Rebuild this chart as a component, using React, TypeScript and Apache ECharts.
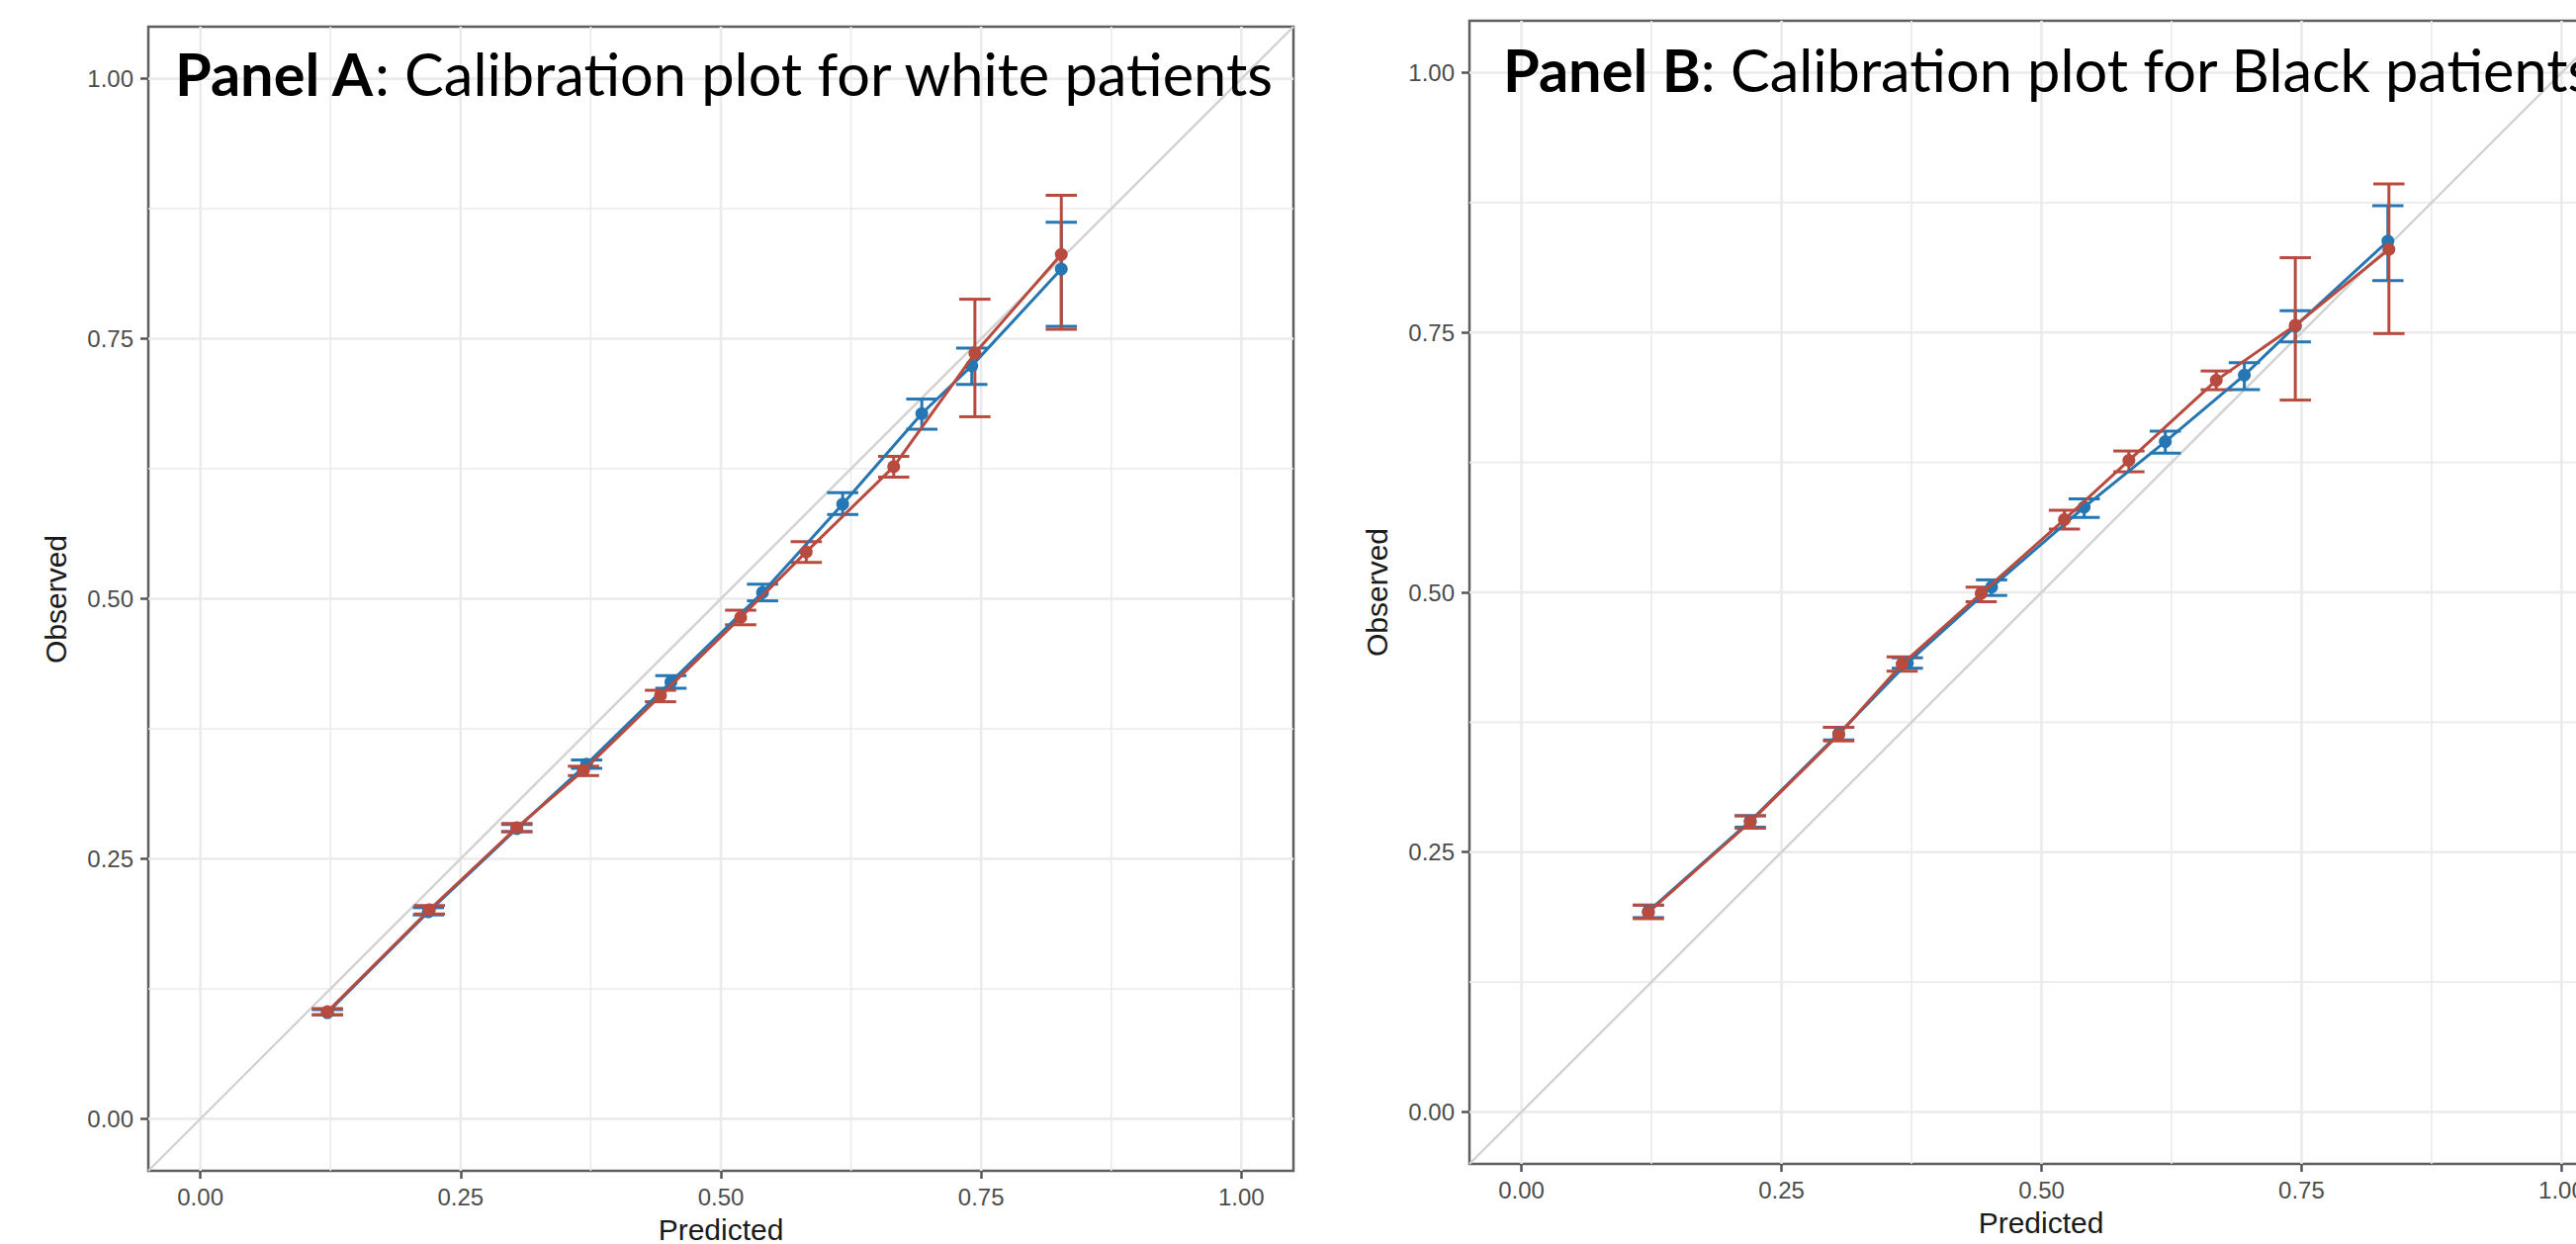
import React, { useEffect, useRef } from "react";
import * as echarts from "echarts";

// ---------- axis ticks ----------
const AXIS_MIN = -0.05;
const AXIS_MAX = 1.05;
const MAJOR_TICKS = [0, 0.25, 0.5, 0.75, 1];
const MINOR_TICKS = [0.125, 0.375, 0.625, 0.875];
const TICK_LABELS = ["0.00", "0.25", "0.50", "0.75", "1.00"];
const CAP_WIDTH = 0.03;

// ---------- Panel A: white patients ----------
const aRedX = [0.122, 0.22, 0.304, 0.368, 0.442, 0.519, 0.582, 0.666, 0.744, 0.827];
const aRedY = [0.103, 0.201, 0.28, 0.335, 0.407, 0.482, 0.545, 0.627, 0.736, 0.831];
const aRedLo = [0.1, 0.197, 0.276, 0.33, 0.401, 0.475, 0.535, 0.617, 0.675, 0.759];
const aRedHi = [0.106, 0.205, 0.284, 0.339, 0.412, 0.489, 0.555, 0.637, 0.788, 0.888];

const aBlueX = [0.122, 0.219, 0.304, 0.371, 0.452, 0.54, 0.617, 0.693, 0.741, 0.827];
const aBlueY = [0.102, 0.199, 0.279, 0.341, 0.42, 0.506, 0.591, 0.678, 0.724, 0.817];
const aBlueLo = [0.1, 0.196, 0.276, 0.337, 0.414, 0.498, 0.581, 0.663, 0.706, 0.762];
const aBlueHi = [0.105, 0.203, 0.283, 0.345, 0.426, 0.514, 0.602, 0.692, 0.741, 0.862];

// ---------- Panel B: Black patients ----------
const bRedX = [0.122, 0.22, 0.305, 0.366, 0.442, 0.522, 0.584, 0.668, 0.744, 0.834];
const bRedY = [0.192, 0.279, 0.363, 0.431, 0.499, 0.57, 0.627, 0.704, 0.757, 0.83];
const bRedLo = [0.186, 0.273, 0.357, 0.424, 0.491, 0.561, 0.616, 0.695, 0.685, 0.749];
const bRedHi = [0.199, 0.285, 0.37, 0.438, 0.505, 0.579, 0.636, 0.713, 0.822, 0.893];

const bBlueX = [0.122, 0.22, 0.305, 0.371, 0.452, 0.541, 0.619, 0.695, 0.744, 0.833];
const bBlueY = [0.193, 0.28, 0.364, 0.432, 0.505, 0.582, 0.645, 0.709, 0.756, 0.838];
const bBlueLo = [0.187, 0.274, 0.358, 0.427, 0.497, 0.572, 0.634, 0.695, 0.741, 0.8];
const bBlueHi = [0.199, 0.285, 0.37, 0.437, 0.512, 0.59, 0.655, 0.721, 0.771, 0.872];

const RED = "#B84B3F";
const BLUE = "#2676B3";
const GRID_COLOR = "#EBEBEB";
const DIAG_COLOR = "#D2D2D2";
const TICK_FONT = "'Liberation Sans', Arial, sans-serif";
const TITLE_FONT = "Lato, 'Open Sans', sans-serif";

const zip = (xs: number[], ys: number[]) => xs.map((x, i) => [x, ys[i]]);
const zip3 = (xs: number[], lo: number[], hi: number[]) => xs.map((x, i) => [x, lo[i], hi[i]]);

function gridLineSeries(idx: number) {
  const data = [
    ...MAJOR_TICKS.map((v) => [v, 1]),
    ...MINOR_TICKS.map((v) => [v, 0]),
  ];
  return {
    type: "custom",
    xAxisIndex: idx,
    yAxisIndex: idx,
    z: 0,
    silent: true,
    data,
    encode: { x: 0, y: 1 },
    renderItem: (params: any, api: any) => {
      const v = api.value(0);
      const major = api.value(1) === 1;
      const p1 = api.coord([v, AXIS_MIN]);
      const p2 = api.coord([v, AXIS_MAX]);
      const q1 = api.coord([AXIS_MIN, v]);
      const q2 = api.coord([AXIS_MAX, v]);
      const style = { stroke: GRID_COLOR, lineWidth: major ? 2.6 : 1.6 };
      return {
        type: "group",
        children: [
          { type: "line", shape: { x1: p1[0], y1: p1[1], x2: p2[0], y2: p2[1] }, style },
          { type: "line", shape: { x1: q1[0], y1: q1[1], x2: q2[0], y2: q2[1] }, style },
        ],
      };
    },
  };
}

function diagonalSeries(idx: number) {
  return {
    type: "line",
    xAxisIndex: idx,
    yAxisIndex: idx,
    z: 1,
    silent: true,
    symbol: "none",
    lineStyle: { color: DIAG_COLOR, width: 2.4 },
    data: [
      [AXIS_MIN, AXIS_MIN],
      [AXIS_MAX, AXIS_MAX],
    ],
  };
}

function errorBarSeries(idx: number, xs: number[], lo: number[], hi: number[], color: string, z: number) {
  return {
    type: "custom",
    xAxisIndex: idx,
    yAxisIndex: idx,
    z,
    silent: true,
    data: zip3(xs, lo, hi),
    encode: { x: 0, y: [1, 2] },
    renderItem: (params: any, api: any) => {
      const x = api.value(0);
      const top = api.coord([x, api.value(2)]);
      const bot = api.coord([x, api.value(1)]);
      const half = api.size([CAP_WIDTH / 2, 0])[0];
      const style = { stroke: color, lineWidth: 3 };
      return {
        type: "group",
        children: [
          { type: "line", shape: { x1: top[0], y1: top[1], x2: bot[0], y2: bot[1] }, style },
          { type: "line", shape: { x1: top[0] - half, y1: top[1], x2: top[0] + half, y2: top[1] }, style },
          { type: "line", shape: { x1: bot[0] - half, y1: bot[1], x2: bot[0] + half, y2: bot[1] }, style },
        ],
      };
    },
  };
}

function pointLineSeries(idx: number, xs: number[], ys: number[], color: string, z: number) {
  return {
    type: "line",
    xAxisIndex: idx,
    yAxisIndex: idx,
    z,
    symbol: "circle",
    symbolSize: 13,
    showSymbol: true,
    itemStyle: { color },
    lineStyle: { color, width: 3 },
    data: zip(xs, ys),
  };
}

function makeAxis(idx: number, isX: boolean) {
  return {
    gridIndex: idx,
    type: "value",
    min: AXIS_MIN,
    max: AXIS_MAX,
    axisLine: { show: false, onZero: false },
    axisTick: {
      show: true,
      customValues: MAJOR_TICKS,
      length: 8,
      lineStyle: { color: "#555555", width: 2.5 },
    },
    axisLabel: {
      customValues: MAJOR_TICKS,
      formatter: (v: number) => TICK_LABELS[MAJOR_TICKS.findIndex((t) => Math.abs(t - v) < 1e-6)] ?? "",
      color: "#4D4D4D",
      fontSize: 24,
      fontFamily: TICK_FONT,
      margin: isX ? 14 : 15,
    },
    splitLine: { show: false },
    minorSplitLine: { show: false },
  };
}

export default function App() {
  const ref = useRef<HTMLDivElement>(null);

  useEffect(() => {
    if (!ref.current) return;
    const chart = echarts.init(ref.current, undefined, { renderer: "svg" });

    const gridStyle = {
      show: true,
      borderColor: "#5E5E5E",
      borderWidth: 2.5,
      backgroundColor: "#FFFFFF",
      containLabel: false,
      outerBoundsMode: "none",
    };

    const titleRich = (label: string, rest: string, x: number, y: number) => ({
      type: "text",
      x,
      y,
      z: 100,
      silent: true,
      style: {
        text: `{b|${label}}: ${rest}`,
        fontFamily: TITLE_FONT,
        fontSize: 59.5,
        fill: "#000000",
        verticalAlign: "middle",
        align: "left",
        rich: {
          b: { fontFamily: TITLE_FONT, fontSize: 59.5, fontWeight: "bold", fill: "#000000" },
        },
      },
    });

    const axisTitle = (text: string, x: number, y: number, rotate: boolean) => ({
      type: "text",
      x,
      y,
      rotation: rotate ? Math.PI / 2 : 0,
      z: 100,
      silent: true,
      style: {
        text,
        fontFamily: TICK_FONT,
        fontSize: 30,
        fill: "#1A1A1A",
        align: "center",
        verticalAlign: "middle",
      },
    });

    chart.setOption({
      animation: false,
      backgroundColor: "#FFFFFF",
      grid: [
        { ...gridStyle, left: 150, top: 27, width: 1158, height: 1157 },
        { ...gridStyle, left: 1486, top: 21, width: 1157, height: 1156 },
      ],
      xAxis: [makeAxis(0, true), makeAxis(1, true)],
      yAxis: [makeAxis(0, false), makeAxis(1, false)],
      series: [
        gridLineSeries(0),
        diagonalSeries(0),
        errorBarSeries(0, aBlueX, aBlueLo, aBlueHi, BLUE, 2),
        errorBarSeries(0, aRedX, aRedLo, aRedHi, RED, 3),
        pointLineSeries(0, aBlueX, aBlueY, BLUE, 4),
        pointLineSeries(0, aRedX, aRedY, RED, 5),
        gridLineSeries(1),
        diagonalSeries(1),
        errorBarSeries(1, bBlueX, bBlueLo, bBlueHi, BLUE, 2),
        errorBarSeries(1, bRedX, bRedLo, bRedHi, RED, 3),
        pointLineSeries(1, bBlueX, bBlueY, BLUE, 4),
        pointLineSeries(1, bRedX, bRedY, RED, 5),
      ],
      graphic: [
        titleRich("Panel A", "Calibration plot for white patients", 177, 74),
        titleRich("Panel B", "Calibration plot for Black patients", 1520, 70),
        axisTitle("Observed", 56, 606, true),
        axisTitle("Predicted", 729, 1243, false),
        axisTitle("Observed", 1392, 599, true),
        axisTitle("Predicted", 2064, 1236, false),
      ],
    });

    return () => chart.dispose();
  }, []);

  return (
    <div
      ref={ref}
      style={{ position: "absolute", left: 0, top: 0, width: 2605, height: 1258, overflow: "hidden" }}
    />
  );
}
